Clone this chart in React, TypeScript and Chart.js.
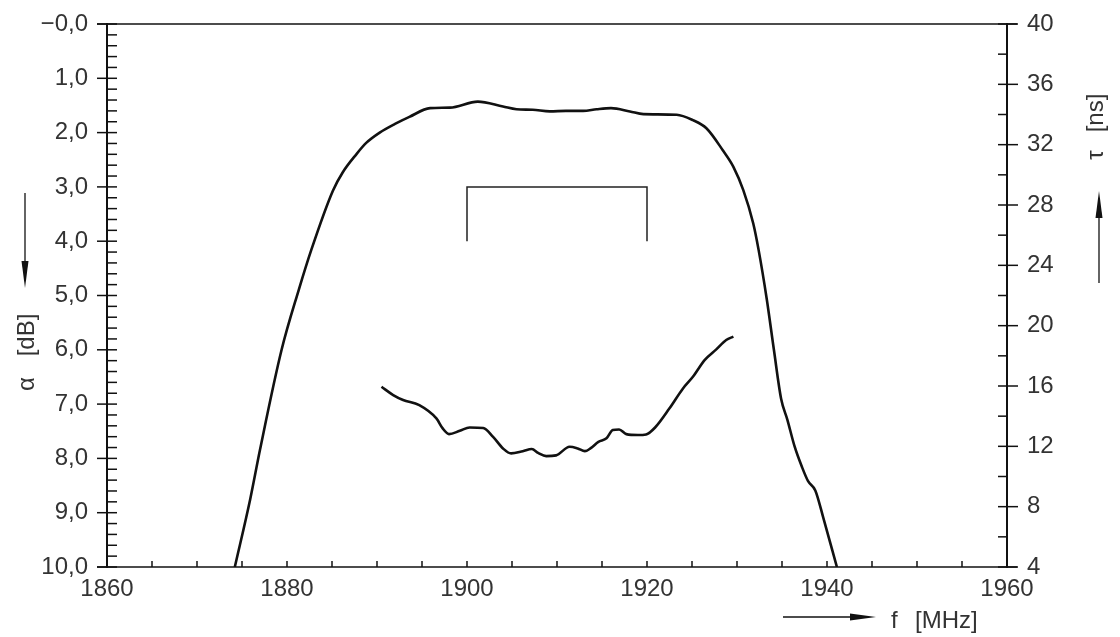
import React, { useEffect, useRef } from 'react';
import { Chart, registerables } from 'chart.js';

Chart.register(...registerables);

// Attenuation α [dB] vs frequency f [MHz] (left axis, inverted)
const attenFreq = [
  1874.2, 1875.9, 1877.0, 1879.4, 1881.3, 1882.7, 1885.1, 1886.2, 1887.7,
  1888.8, 1890.3, 1892.0, 1893.6, 1895.9, 1898.1, 1901.2, 1904.0, 1905.5, 1907.3,
  1909.2, 1911.0, 1912.9, 1914.4, 1916.0, 1918.1, 1919.6, 1923.3, 1925.1, 1926.6,
  1928.4, 1929.6, 1930.7, 1931.8, 1932.4, 1933.3, 1934.1, 1934.9, 1935.6, 1936.4,
  1937.2, 1937.9, 1938.7, 1939.6, 1941.1,
];
const attenDb = [
  10.0, 8.76, 7.84, 6.0, 4.9, 4.16, 3.07, 2.73, 2.4,
  2.19, 2.0, 1.84, 1.71, 1.55, 1.54, 1.43, 1.52, 1.57, 1.58,
  1.61, 1.6, 1.6, 1.57, 1.55, 1.61, 1.66, 1.67, 1.77, 1.92,
  2.32, 2.63, 3.06, 3.67, 4.16, 5.06, 6.0, 6.9, 7.29, 7.78,
  8.15, 8.42, 8.59, 9.1, 10.0,
];

// Group delay τ [ns] vs frequency (right axis)
const delayFreq = [
  1890.5, 1891.8, 1892.9, 1894.7, 1896.6, 1897.3, 1898.0, 1899.2, 1900.3, 1901.8,
  1902.9, 1904.0, 1904.9, 1906.2, 1907.2, 1907.9, 1908.8, 1909.9, 1911.4, 1912.3,
  1913.1, 1913.8, 1914.6, 1915.5, 1916.2, 1916.9, 1917.7, 1919.0, 1919.9, 1920.9,
  1922.5, 1924.0, 1925.1, 1926.4, 1927.7, 1928.8, 1929.6,
];
const delayNs = [
  15.95, 15.4, 15.07, 14.73, 13.85, 13.19, 12.81, 13.03, 13.25, 13.21,
  12.63, 11.86, 11.53, 11.68, 11.82, 11.57, 11.35, 11.4, 11.97, 11.86,
  11.68, 11.9, 12.3, 12.53, 13.08, 13.12, 12.81, 12.75, 12.79, 13.25,
  14.52, 15.84, 16.61, 17.72, 18.43, 19.05, 19.27,
];

// Pass-band bracket (left axis)
const bracketFreq = [1900, 1900, 1920, 1920];
const bracketDb = [4, 3, 3, 4];

const freqTickLabels = ['1860', '1880', '1900', '1920', '1940', '1960'];
const dbTickLabels = ['−0,0', '1,0', '2,0', '3,0', '4,0', '5,0', '6,0', '7,0', '8,0', '9,0', '10,0'];
const nsTickLabels = ['4', '8', '12', '16', '20', '24', '28', '32', '36', '40'];

const FONT = '"Liberation Sans", Arial, sans-serif';
const TXT = '#333';
const INK = '#111';

function pts(xs: number[], ys: number[]) {
  return xs.map((x, i) => ({ x, y: ys[i] }));
}

const framePlugin = {
  id: 'frame',
  afterDatasetsDraw(chart: any) {
    const { ctx, chartArea: a, scales } = chart;
    const sx = scales.x;
    const sl = scales.yL;
    const sr = scales.yR;
    ctx.save();
    ctx.strokeStyle = INK;
    ctx.lineCap = 'butt';

    const seg = (x1: number, y1: number, x2: number, y2: number) => {
      ctx.beginPath();
      ctx.moveTo(x1, y1);
      ctx.lineTo(x2, y2);
      ctx.stroke();
    };

    // frame lines
    ctx.lineWidth = 2;
    seg(a.left, a.top - 1, a.left, a.bottom + 1);
    seg(a.right, a.top - 1, a.right, a.bottom + 1);
    ctx.lineWidth = 1.5;
    seg(a.left - 10, a.top, a.right + 10, a.top);
    seg(a.left - 10, a.bottom, a.right + 10, a.bottom);

    // left ticks: minor every 0.2, major every 1
    ctx.lineWidth = 1.5;
    for (let k = 0; k <= 50; k++) {
      const v = k * 0.2;
      const y = sl.getPixelForValue(v);
      if (k % 5 === 0) seg(a.left - 10, y, a.left + 10, y);
      else seg(a.left, y, a.left + 10, y);
    }
    // right ticks: minor every 2, major every 4
    for (let v = 4; v <= 40; v += 2) {
      const y = sr.getPixelForValue(v);
      if (v % 4 === 0) seg(a.right - 9, y, a.right + 11, y);
      else seg(a.right - 9, y, a.right, y);
    }
    // bottom ticks every 5 MHz (inside)
    for (let v = 1865; v < 1960; v += 5) {
      const x = sx.getPixelForValue(v);
      seg(x, a.bottom, x, a.bottom - 6);
    }

    // axis titles
    ctx.fillStyle = TXT;
    ctx.font = `24px ${FONT}`;
    ctx.textBaseline = 'alphabetic';
    ctx.textAlign = 'center';

    // left: α [dB] rotated with arrow pointing down
    ctx.save();
    ctx.translate(34, 335);
    ctx.rotate(-Math.PI / 2);
    ctx.fillText('[dB]', 0, 0);
    ctx.restore();
    ctx.save();
    ctx.translate(34, 384);
    ctx.rotate(-Math.PI / 2);
    ctx.fillText('α', 0, 0);
    ctx.restore();

    // right: τ [ns]
    ctx.save();
    ctx.translate(1103, 113);
    ctx.rotate(-Math.PI / 2);
    ctx.fillText('[ns]', 0, 0);
    ctx.restore();
    ctx.save();
    ctx.translate(1103, 155);
    ctx.rotate(-Math.PI / 2);
    ctx.fillText('τ', 0, 0);
    ctx.restore();

    // bottom: f [MHz]
    ctx.textAlign = 'left';
    ctx.fillText('f', 891, 628);
    ctx.fillText('[MHz]', 915, 628);

    // arrows
    ctx.fillStyle = INK;
    ctx.lineWidth = 1.3;
    // left arrow (down)
    seg(25, 193, 25, 262);
    ctx.beginPath();
    ctx.moveTo(21.5, 261);
    ctx.lineTo(28.5, 261);
    ctx.lineTo(25, 288);
    ctx.closePath();
    ctx.fill();
    // right arrow (up)
    seg(1099, 283, 1099, 216);
    ctx.beginPath();
    ctx.moveTo(1095.5, 218);
    ctx.lineTo(1102.5, 218);
    ctx.lineTo(1099, 191);
    ctx.closePath();
    ctx.fill();
    // bottom arrow (right)
    seg(783, 617, 852, 617);
    ctx.beginPath();
    ctx.moveTo(850, 613.5);
    ctx.lineTo(850, 620.5);
    ctx.lineTo(876, 617);
    ctx.closePath();
    ctx.fill();

    ctx.restore();
  },
};

export default function App() {
  const ref = useRef<HTMLCanvasElement | null>(null);
  useEffect(() => {
    if (!ref.current) return;
    const tickFont = { family: FONT, size: 24 };
    const lineDs = {
      borderColor: INK,
      borderWidth: 2.6,
      pointRadius: 0,
      cubicInterpolationMode: 'monotone',
      fill: false,
    };
    const fitY = (w: number) => (s: any) => {
      s.width = w;
      s.paddingTop = 0;
      s.paddingBottom = 0;
    };
    const chart = new Chart(ref.current, {
      type: 'line',
      data: {
        datasets: [
          { ...lineDs, data: pts(attenFreq, attenDb), yAxisID: 'yL' },
          { ...lineDs, data: pts(delayFreq, delayNs), yAxisID: 'yR' },
          {
            data: pts(bracketFreq, bracketDb),
            yAxisID: 'yL',
            borderColor: '#222',
            borderWidth: 1.5,
            pointRadius: 0,
            tension: 0,
            fill: false,
          },
        ],
      },
      options: {
        animation: false,
        responsive: true,
        maintainAspectRatio: false,
        layout: { padding: { top: 24, left: 0, right: 0, bottom: 0 } },
        plugins: { legend: { display: false }, tooltip: { enabled: false } },
        events: [],
        scales: {
          x: {
            type: 'linear',
            min: 1860,
            max: 1960,
            grid: { display: false, drawTicks: false },
            border: { display: false },
            ticks: {
              stepSize: 20,
              autoSkip: false,
              maxRotation: 0,
              padding: 8,
              color: TXT,
              font: tickFont,
              callback: (v: any) => freqTickLabels[Math.round((Number(v) - 1860) / 20)] ?? '',
            },
            afterFit: (s: any) => {
              s.height = 70;
              s.paddingLeft = 0;
              s.paddingRight = 0;
            },
          },
          yL: {
            type: 'linear',
            position: 'left',
            reverse: true,
            min: 0,
            max: 10,
            grid: { display: false, drawTicks: false },
            border: { display: false },
            ticks: {
              stepSize: 1,
              autoSkip: false,
              padding: 19,
              color: TXT,
              font: tickFont,
              callback: (v: any) => dbTickLabels[Math.round(Number(v))] ?? '',
            },
            afterFit: fitY(107),
          },
          yR: {
            type: 'linear',
            position: 'right',
            min: 4,
            max: 40,
            grid: { display: false, drawTicks: false },
            border: { display: false },
            ticks: {
              stepSize: 4,
              autoSkip: false,
              padding: 20,
              color: TXT,
              font: tickFont,
              callback: (v: any) => nsTickLabels[Math.round((Number(v) - 4) / 4)] ?? '',
            },
            afterFit: fitY(113),
          },
        },
      },
      plugins: [framePlugin],
    } as any);
    return () => chart.destroy();
  }, []);

  return (
    <div style={{ position: 'fixed', left: 0, top: 0, width: 1120, height: 637, background: '#fff' }}>
      <canvas ref={ref} />
    </div>
  );
}
